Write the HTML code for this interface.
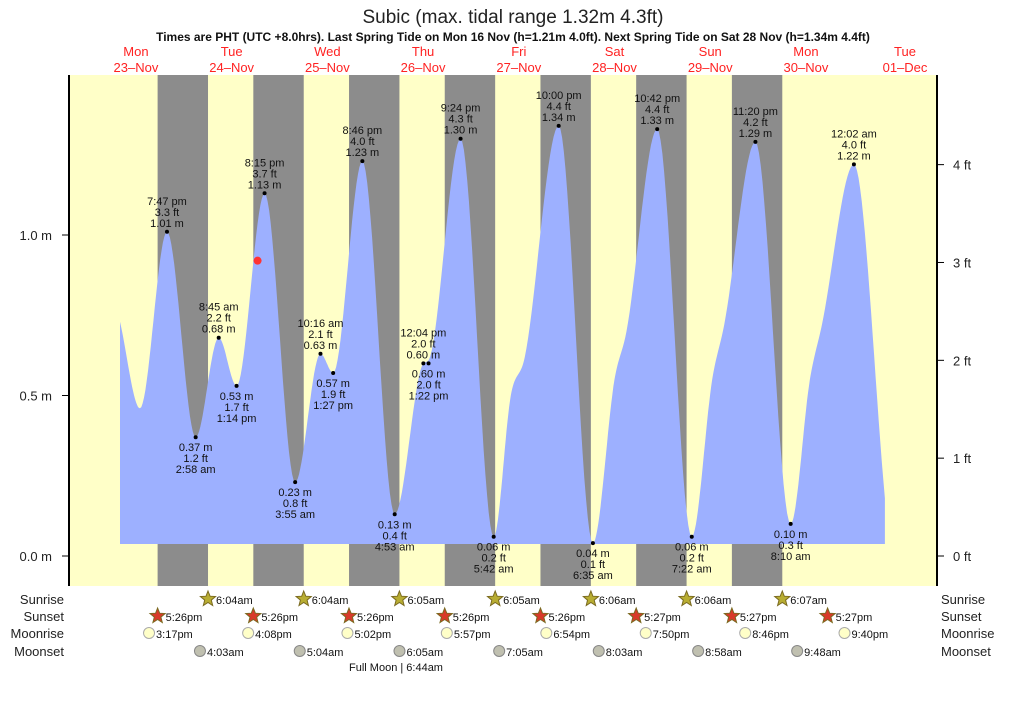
<!DOCTYPE html>
<html><head><meta charset="utf-8"><style>
html,body{margin:0;padding:0;background:#fff}
svg{display:block;font-family:"Liberation Sans",sans-serif}
</style></head><body>
<svg id="s" width="1026" height="703" viewBox="0 0 1026 703" xmlns="http://www.w3.org/2000/svg">
<rect width="1026" height="703" fill="#fff"/>
<text x="513" y="23" font-size="19" text-anchor="middle" fill="#222">Subic (max. tidal range 1.32m 4.3ft)</text>
<text x="513" y="41" font-size="12" font-weight="bold" text-anchor="middle" fill="#111">Times are PHT (UTC +8.0hrs). Last Spring Tide on Mon 16 Nov (h=1.21m 4.0ft). Next Spring Tide on Sat 28 Nov (h=1.34m 4.4ft)</text>
<g id="g"></g>
</svg>
<script>
var g=document.getElementById('g'),h='';
var X=function(hr){return 88.1+hr*3.988};
var Y=function(m){return 556-m*321};
h+='<rect x="69" y="75" width="868" height="511" fill="#ffffc8"/>';
for(var d=0;d<7;d++){var a=X(d*24+17.43),b=X(d*24+30.07);h+='<rect x="'+a+'" y="75" width="'+(b-a)+'" height="511" fill="#8c8c8c"/>';}
var dn=['Mon','Tue','Wed','Thu','Fri','Sat','Sun','Mon','Tue'],dt=['23-Nov','24-Nov','25-Nov','26-Nov','27-Nov','28-Nov','29-Nov','30-Nov','01-Dec'];
for(var i=0;i<9;i++){var x=i<8?X(i*24+12):905;h+='<text x="'+x+'" y="56" font-size="13" fill="#f22" text-anchor="middle">'+dn[i]+'</text><text x="'+x+'" y="72" font-size="13" fill="#f22" text-anchor="middle">'+dt[i].replace('-','–')+'</text>';}
var P=[[8,0.73],[13,0.46],[19.78,1.01],[26.97,0.37],[32.75,0.68],[37.23,0.53],[44.25,1.13],[51.92,0.23],[58.27,0.63],[61.45,0.57],[68.77,1.23],[76.88,0.13],[84.07,0.60],[85.37,0.61],[93.4,1.30],[101.7,0.06],[106,0.50],[109.5,0.62],[118,1.34],[126.58,0.04],[132,0.55],[135,0.70],[142.7,1.33],[151.37,0.06],[156.5,0.55],[159.5,0.72],[167.33,1.29],[176.17,0.10],[181,0.55],[184,0.72],[192.03,1.22],[199.8,0.18]];
// monotone cubic
var n=P.length,dl=[],ms=[];
for(var i=0;i<n-1;i++)dl[i]=(P[i+1][1]-P[i][1])/(P[i+1][0]-P[i][0]);
ms[0]=dl[0];ms[n-1]=dl[n-2];
for(var i=1;i<n-1;i++){ms[i]=(dl[i-1]*dl[i]<=0)?0:(dl[i-1]+dl[i])/2;}
for(var i=0;i<n-1;i++){if(dl[i]==0){ms[i]=ms[i+1]=0;continue;}var a=ms[i]/dl[i],b=ms[i+1]/dl[i],s=a*a+b*b;if(s>9){var t=3/Math.sqrt(s);ms[i]=t*a*dl[i];ms[i+1]=t*b*dl[i];}}
var d='M'+X(8)+' 544 ';
for(var i=0;i<n-1;i++){var x0=P[i][0],x1=P[i+1][0],y0=P[i][1],y1=P[i+1][1],hh=x1-x0;
for(var k=0;k<=20;k++){var t=k/20,t2=t*t,t3=t2*t;var m=(2*t3-3*t2+1)*y0+(t3-2*t2+t)*hh*ms[i]+(-2*t3+3*t2)*y1+(t3-t2)*hh*ms[i+1];
d+='L'+X(x0+hh*t).toFixed(1)+' '+Math.min(544,Y(m)).toFixed(1)+' ';}}
d+='L'+X(199.8)+' 544Z';
h+='<path d="'+d+'" fill="#9db0ff"/>';
h+='<line x1="69" y1="75" x2="69" y2="586" stroke="#000" stroke-width="2"/><line x1="937" y1="75" x2="937" y2="586" stroke="#000" stroke-width="2"/>';
[[0,'0.0 m'],[0.5,'0.5 m'],[1,'1.0 m']].forEach(function(e){var y=Y(e[0]);h+='<line x1="62" y1="'+y+'" x2="69" y2="'+y+'" stroke="#000"/><text x="52" y="'+(y+5)+'" font-size="13" text-anchor="end" fill="#222">'+e[1]+'</text>';});
for(var f=0;f<=4;f++){var y=Y(f*0.3048);h+='<line x1="937" y1="'+y+'" x2="944" y2="'+y+'" stroke="#000"/><text x="953" y="'+(y+5)+'" font-size="13" fill="#222">'+f+' ft</text>';}
var E=[[19.78,1.01,'7:47 pm','3.3 ft',1],[26.97,0.37,'2:58 am','1.2 ft',0],[32.75,0.68,'8:45 am','2.2 ft',1],[37.23,0.53,'1:14 pm','1.7 ft',0],[44.25,1.13,'8:15 pm','3.7 ft',1],[51.92,0.23,'3:55 am','0.8 ft',0],[58.27,0.63,'10:16 am','2.1 ft',1],[61.45,0.57,'1:27 pm','1.9 ft',0],[68.77,1.23,'8:46 pm','4.0 ft',1],[76.88,0.13,'4:53 am','0.4 ft',0],[84.07,0.60,'12:04 pm','2.0 ft',1],[85.37,0.60,'1:22 pm','2.0 ft',0],[93.4,1.30,'9:24 pm','4.3 ft',1],[101.7,0.06,'5:42 am','0.2 ft',0],[118,1.34,'10:00 pm','4.4 ft',1],[126.58,0.04,'6:35 am','0.1 ft',0],[142.7,1.33,'10:42 pm','4.4 ft',1],[151.37,0.06,'7:22 am','0.2 ft',0],[167.33,1.29,'11:20 pm','4.2 ft',1],[176.17,0.10,'8:10 am','0.3 ft',0],[192.03,1.22,'12:02 am','4.0 ft',1]];
E.forEach(function(e){var x=X(e[0]),y=Y(e[1]),m=e[1].toFixed(2)+' m';h+='<circle cx="'+x+'" cy="'+y+'" r="2" fill="#000"/>';
var T=function(yy,s){h+='<text x="'+x+'" y="'+yy+'" font-size="11" text-anchor="middle" fill="#111">'+s+'</text>';};
if(e[4]){T(y-5,m);T(y-16,e[3]);T(y-27,e[2]);}else{T(y+14,m);T(y+25,e[3]);T(y+36,e[2]);}});
h+='<circle cx="'+X(42.5)+'" cy="'+Y(0.92)+'" r="4" fill="#f33"/>';
var rows=[['Sunrise',604],['Sunset',621],['Moonrise',638],['Moonset',656]];
rows.forEach(function(r){h+='<text x="64" y="'+r[1]+'" font-size="13" text-anchor="end" fill="#222">'+r[0]+'</text><text x="941" y="'+r[1]+'" font-size="13" fill="#222">'+r[0]+'</text>';});
function star(x,y,c){var s='';for(var i=0;i<10;i++){var a=-Math.PI/2+i*Math.PI/5,rr=i%2?3.5:8;s+=(x+rr*Math.cos(a)).toFixed(1)+','+(y+rr*Math.sin(a)).toFixed(1)+' ';}return '<polygon points="'+s+'" fill="'+c+'" stroke="#7a6a20" stroke-width="1"/>';}
var sr=['6:04am','6:04am','6:05am','6:05am','6:06am','6:06am','6:07am'];
for(var i=0;i<7;i++){var x=X((i+1)*24+6.07);h+=star(x,599,'#b8ad32')+'<text x="'+(x+8)+'" y="604" font-size="11" fill="#111">'+sr[i]+'</text>';}
var ss=['5:26pm','5:26pm','5:26pm','5:26pm','5:26pm','5:27pm','5:27pm','5:27pm'];
for(var i=0;i<8;i++){var x=X(i*24+17.43);h+=star(x,616,'#d83a2a')+'<text x="'+(x+8)+'" y="621" font-size="11" fill="#111">'+ss[i]+'</text>';}
var mr=[[15.28,'3:17pm'],[40.13,'4:08pm'],[65.03,'5:02pm'],[89.95,'5:57pm'],[114.9,'6:54pm'],[139.83,'7:50pm'],[164.77,'8:46pm'],[189.67,'9:40pm']];
mr.forEach(function(e){var x=X(e[0]);h+='<circle cx="'+x+'" cy="633" r="5.5" fill="#ffffc8" stroke="#aaa"/><text x="'+(x+7)+'" y="638" font-size="11" fill="#111">'+e[1]+'</text>';});
var mo=[[28.05,'4:03am'],[53.07,'5:04am'],[78.08,'6:05am'],[103.08,'7:05am'],[128.05,'8:03am'],[152.97,'8:58am'],[177.8,'9:48am']];
mo.forEach(function(e){var x=X(e[0]);h+='<circle cx="'+x+'" cy="651" r="5.5" fill="#c0c0b0" stroke="#888"/><text x="'+(x+7)+'" y="656" font-size="11" fill="#111">'+e[1]+'</text>';});
h+='<text x="396" y="671" font-size="11" text-anchor="middle" fill="#111">Full Moon | 6:44am</text>';
g.innerHTML=h;
</script>
</body></html>
